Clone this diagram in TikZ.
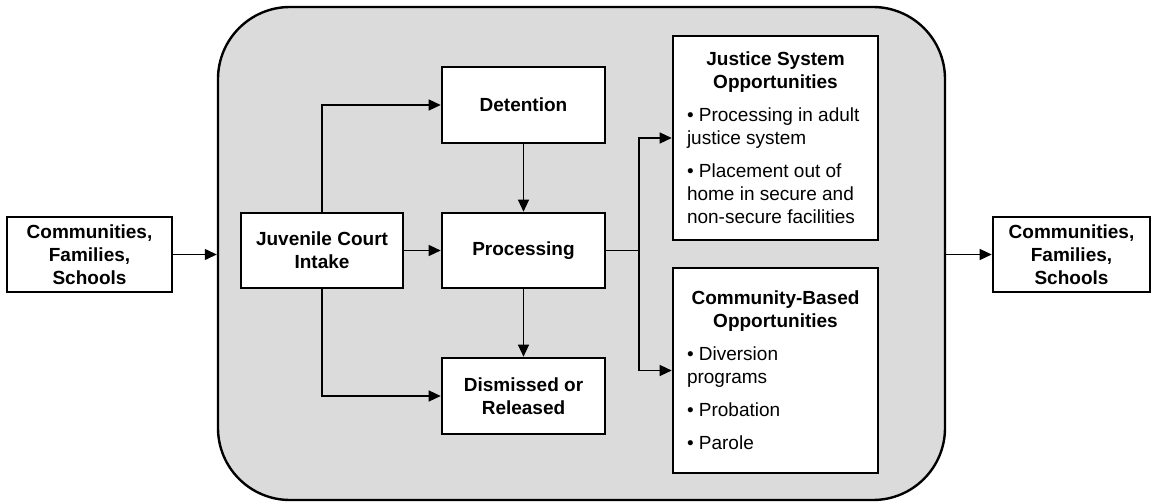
\documentclass[tikz,border=0pt]{standalone}
\usepackage{fontspec}
\setmainfont{Liberation Sans}
\usetikzlibrary{arrows.meta}
\definecolor{panelgray}{gray}{0.86}
\tikzset{
  box/.style={draw=black, line width=2.6pt, fill=white, inner sep=0pt,
    font=\fontsize{19}{23}\selectfont\bfseries, align=center},
  conn/.style={draw=black, line width=1.3pt},
  arr/.style={conn, -{Triangle[length=12pt,width=11pt]}},
  panel/.style={draw=black, line width=2.4pt, fill=panelgray, rounded corners=72pt, inner sep=0pt},
  listbox/.style={draw=black, line width=2.6pt, fill=white, inner sep=0pt,
    font=\fontsize{19}{23}\selectfont}
}
\begin{document}
\begin{tikzpicture}[x=1pt,y=-1pt]
\useasboundingbox (0,0) rectangle (1152,503);
\node[panel, minimum width=727pt, minimum height=493pt] (big) at (581.5,253.5) {};

\node[box, minimum width=165pt, minimum height=75pt] (lft) at (89.5,254.5) {Communities,\\Families,\\Schools};
\node[box, minimum width=157pt, minimum height=75pt] (rgt) at (1071.5,254.5) {Communities,\\Families,\\Schools};

\node[box, minimum width=162pt, minimum height=75pt] (intake) at (322,250.5) {Juvenile Court\\Intake};
\node[box, minimum width=163pt, minimum height=76pt] (det) at (523.5,105) {Detention};
\node[box, minimum width=163pt, minimum height=75pt] (proc) at (523.5,250.5) {Processing};
\node[box, minimum width=163pt, minimum height=76pt] (dis) at (523.5,396) {Dismissed or\\Released};

\node[listbox, minimum width=205pt, minimum height=204pt] (jso) at (775.5,138) {%
\parbox{177pt}{\centering\bfseries Justice System\\Opportunities\par
\raggedright\mdseries\vspace{10pt}• Processing in adult\\justice system\par
\vspace{10pt}• Placement out of\\home in secure and\\non-secure facilities\par}};

\node[listbox, minimum width=205pt, minimum height=205pt] (cbo) at (775.5,370.5) {%
\parbox{177pt}{\centering\bfseries Community-Based\\Opportunities\par
\raggedright\mdseries\vspace{10pt}• Diversion\\programs\par
\vspace{10pt}• Probation\par
\vspace{10pt}• Parole\par}};

\coordinate (junc) at (639,250.5);

\draw[arr] (lft.east) -- (lft.east -| big.west);
\draw[arr] (big.east |- rgt.west) -- (rgt.west);
\draw[arr] (intake.east) -- (proc.west);
\draw[arr] (intake.north) |- (det.west);
\draw[arr] (intake.south) |- (dis.west);
\draw[arr] (det.south) -- (proc.north);
\draw[arr] (proc.south) -- (dis.north);
\draw[conn] (proc.east) -- (junc);
\draw[arr] (junc) |- (jso.west);
\draw[arr] (junc) |- (cbo.west);
\end{tikzpicture}
\end{document}
